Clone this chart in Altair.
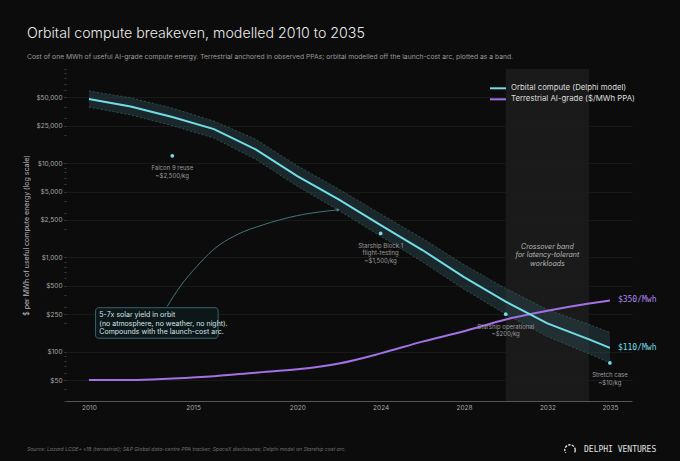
import json
import altair as alt
import pandas as pd

# ---------------- data ----------------
years = [2010, 2012, 2014, 2016, 2018, 2020, 2022, 2024, 2026, 2028, 2030, 2032, 2034, 2035]
orbital_mid = [48000, 40000, 31000, 23000, 14000, 7300, 4100, 2200, 1200, 620, 340, 200, 135, 110]
orbital_low = [39500, 32500, 25000, 18500, 11000, 5700, 3150, 1680, 900, 460, 250, 145, 95, 76]
orbital_high = [58500, 49500, 38500, 28000, 18000, 9400, 5300, 2900, 1600, 840, 470, 280, 195, 160]
terrestrial = [50, 50, 52, 55, 60, 65, 75, 96, 128, 165, 220, 272, 325, 350]

milestone_year = [2014, 2024, 2030, 2035]
milestone_value = [12000, 1800, 250, 76]
milestone_label = [
    "Falcon 9 reuse\n~$2,500/kg",
    "Starship Block 1\nflight-testing\n~$1,500/kg",
    "Starship operational\n~$200/kg",
    "Stretch case\n~$10/kg",
]

crossover_start = [2030]
crossover_end = [2034]
crossover_text = ["Crossover band\nfor latency-tolerant\nworkloads"]

end_labels = ["$350/Mwh", "$110/Mwh"]
end_values = [350, 110]

note_text = ["5-7x solar yield in orbit\n(no atmosphere, no weather, no night).\nCompounds with the launch-cost arc."]
note_x = [2010.32, 2016.2]
note_y = [293, 139]
note_text_x = [2010.5]
note_text_y = [268]

arrow_year = [2013.75, 2014.37, 2015.17, 2015.96, 2017.09, 2018.36, 2019.96, 2021.96]
arrow_value = [301, 490, 800, 1205, 1740, 2220, 2770, 3205]

x_ticks = [2010, 2015, 2020, 2024, 2028, 2032, 2035]
y_labels = [50, 100, 250, 500, 1000, 2500, 5000, 10000, 25000, 50000]
y_ticks = [30, 40, 50, 60, 70, 80, 90, 100, 200, 250, 300, 400, 500, 600, 700, 800, 900,
           1000, 2000, 2500, 3000, 4000, 5000, 6000, 7000, 8000, 9000,
           10000, 20000, 25000, 30000, 40000, 50000, 60000, 70000, 80000, 90000, 100000]

series_names = ["Orbital compute (Delphi model)", "Terrestrial AI-grade ($/MWh PPA)"]

title_text = "Orbital compute breakeven, modelled 2010 to 2035"
subtitle_text = ("Cost of one MWh of useful AI-grade compute energy. Terrestrial anchored in observed PPAs; "
                 "orbital modelled off the launch-cost arc, plotted as a band.")
source_text = ("Source: Lazard LCOE+ v18 (terrestrial); S&P Global data-centre PPA tracker; "
               "SpaceX disclosures; Delphi model on Starship cost arc.")
brand_text = "DELPHI VENTURES"
y_title = "$ per MWh of useful compute energy (log scale)"

# ---------------- style ----------------
BG = "#0c0c0c"
CYAN = "#72dde8"
PURPLE = "#a470e6"
FONT = "Inter"
MONO = "DejaVu Sans Mono"
PLOT_W, PLOT_H = 566, 332

x_scale = alt.Scale(domain=[2008.9, 2036.06], nice=False, zero=False)
y_scale = alt.Scale(type="log", domain=[30, 100000], nice=False)

x_axis = alt.Axis(values=x_ticks, format="d", title=None, grid=False, ticks=False,
                  domainColor="#555555", domainWidth=1, labelColor="#a8a8a8",
                  labelFont=FONT, labelFontSize=6.5, labelPadding=3)

label_test = "indexof(" + json.dumps(y_labels) + ", datum.value) >= 0"
y_axis = alt.Axis(
    values=y_ticks,
    labelExpr=label_test + " ? '$' + format(datum.value, ',') : ''",
    title=y_title,
    grid=True,
    gridColor="#1f1f1f",
    gridWidth=0.7,
    gridOpacity={"condition": {"test": label_test, "value": 1}, "value": 0},
    domain=False,
    tickSize=2,
    tickColor="#4a4a4a",
    tickWidth=0.8,
    labelColor="#a8a8a8",
    labelFont=FONT,
    labelFontSize=6.5,
    labelPadding=2,
    titleColor="#b5b5b5",
    titleFont=FONT,
    titleFontSize=7,
    titleFontWeight="normal",
    titlePadding=6,
)


def X(field):
    return alt.X(field, type="quantitative", scale=x_scale, axis=x_axis, title=None)


def Y(field):
    return alt.Y(field, type="quantitative", scale=y_scale, axis=y_axis, title=y_title)


df = pd.DataFrame({"year": years, "mid": orbital_mid, "low": orbital_low,
                   "high": orbital_high, "terr": terrestrial})

# crossover shaded region
cross_df = pd.DataFrame({"start": crossover_start, "end": crossover_end,
                         "mid": [(crossover_start[0] + crossover_end[0]) / 2],
                         "t": crossover_text})
cross = alt.Chart(cross_df).mark_rect(color="#1b1b1b", opacity=0.95).encode(
    x=X("start"), x2="end:Q", y=alt.value(0), y2=alt.value(PLOT_H))
cross_label = alt.Chart(cross_df).mark_text(
    font=FONT, fontSize=7, fontStyle="italic", color="#b8b8b8", lineBreak="\n",
    lineHeight=8.3, baseline="top", align="center").encode(
    x=X("mid"), y=alt.value(174), text="t:N")

# orbital band
band = alt.Chart(df).mark_area(fill="#2c4c55", opacity=0.45).encode(
    x=X("year"), y=Y("low"), y2="high:Q")
band_lo = alt.Chart(df).mark_line(color="#3e6169", strokeWidth=0.7, strokeDash=[2, 2]).encode(
    x=X("year"), y=Y("low"))
band_hi = alt.Chart(df).mark_line(color="#3e6169", strokeWidth=0.7, strokeDash=[2, 2]).encode(
    x=X("year"), y=Y("high"))

orbital = alt.Chart(df).mark_line(color=CYAN, strokeWidth=2).encode(x=X("year"), y=Y("mid"))
terr = alt.Chart(df).mark_line(color=PURPLE, strokeWidth=2, interpolate="monotone").encode(
    x=X("year"), y=Y("terr"))

# milestones
ms_df = pd.DataFrame({"year": milestone_year, "v": milestone_value, "t": milestone_label})
ms_pts = alt.Chart(ms_df).mark_circle(color=CYAN, size=14, opacity=1).encode(x=X("year"), y=Y("v"))
ms_txt = alt.Chart(ms_df).mark_text(
    font=FONT, fontSize=6, color="#9c9c9c", lineBreak="\n", lineHeight=7.4,
    baseline="top", align="center", dy=9.5).encode(x=X("year"), y=Y("v"), text="t:N")

# end labels
end_df = pd.DataFrame({"year": [years[-1], years[-1]], "v": end_values, "t": end_labels,
                       "s": series_names[::-1]})
end_txt = alt.Chart(end_df).mark_text(font=MONO, fontSize=8, align="left", baseline="middle", dx=8).encode(
    x=X("year"), y=Y("v"), text="t:N",
    color=alt.Color("s:N", scale=alt.Scale(domain=series_names, range=[CYAN, "#b283f0"]), legend=None))

# annotation box + arrow
note_df = pd.DataFrame({"x1": [note_x[0]], "x2": [note_x[1]], "y1": [note_y[0]], "y2": [note_y[1]],
                        "tx": note_text_x, "ty": note_text_y, "t": note_text})
note_box = alt.Chart(note_df).mark_rect(fill="#0d1719", stroke="#3e7b80", strokeWidth=0.8,
                                        cornerRadius=3).encode(
    x=X("x1"), x2="x2:Q", y=Y("y1"), y2="y2:Q")
note_txt = alt.Chart(note_df).mark_text(
    font=FONT, fontSize=7, color="#d3e3e5", lineBreak="\n", lineHeight=8.5,
    align="left", baseline="top").encode(x=X("tx"), y=Y("ty"), text="t:N")

arrow_df = pd.DataFrame({"year": arrow_year, "v": arrow_value})
arrow = alt.Chart(arrow_df).mark_line(color="#4f8f94", strokeWidth=0.8, interpolate="monotone").encode(
    x=X("year"), y=Y("v"))
arrow_head = alt.Chart(arrow_df.tail(1)).mark_point(
    shape="triangle-right", filled=True, size=12, angle=352, color="#4f8f94", opacity=1).encode(
    x=X("year"), y=Y("v"))


# page furniture (pixel-positioned, relative to plot origin)
def text_at(t, x, y, **kw):
    return alt.Chart(pd.DataFrame({"t": [t]})).mark_text(**kw).encode(
        x=alt.value(x), y=alt.value(y), text="t:N")


title = text_at(title_text, -39, -35, font=FONT, fontSize=14.2, fontWeight=300, color="#ececec",
                align="left", baseline="middle")
subtitle = text_at(subtitle_text, -39, -12.5, font=FONT, fontSize=6.75, color="#9a9a9a",
                   align="left", baseline="middle")
source = text_at(source_text, -39, 380, font=FONT, fontSize=5.1, fontStyle="italic", color="#6c6c6c",
                 align="left", baseline="middle")
brand = text_at(brand_text, 518, 381, font=MONO, fontSize=8, color="#e0e0e0", align="left",
                baseline="middle")
brand_logo = alt.Chart(pd.DataFrame({"t": [brand_text]})).mark_point(
    shape="circle", filled=False, size=110, strokeWidth=1.3, color="#e0e0e0", strokeDash=[2.5, 1.2],
    opacity=1).encode(x=alt.value(504), y=alt.value(381))

legend_df = pd.DataFrame({"s": series_names, "y": [19.3, 30.3]})
legend_lines = alt.Chart(legend_df).mark_rule(strokeWidth=2).encode(
    x=alt.value(424), x2=alt.value(440), y=alt.Y("y:Q", scale=None),
    color=alt.Color("s:N", scale=alt.Scale(domain=series_names, range=[CYAN, PURPLE]), legend=None))
legend_text = alt.Chart(legend_df).mark_text(font=FONT, fontSize=7.8, color="#dcdcdc", align="left",
                                             baseline="middle").encode(
    x=alt.value(445), y=alt.Y("y:Q", scale=None), text="s:N")

chart = alt.layer(
    cross, band, band_lo, band_hi, terr, orbital, arrow, arrow_head, note_box, note_txt,
    ms_pts, ms_txt, cross_label, end_txt,
    title, subtitle, source, brand, brand_logo, legend_lines, legend_text,
).resolve_scale(color="independent").properties(
    width=PLOT_W, height=PLOT_H,
    autosize=alt.AutoSizeParams(type="none"),
    padding={"left": 58, "top": 61, "right": 40, "bottom": 52},
    background=BG,
).configure_view(strokeOpacity=0)


# make the page margin dark too
try:
    import altair.utils.mimebundle as _mb
    _orig_spec_to_html = _mb.spec_to_html

    def _dark_spec_to_html(*a, **k):
        html = _orig_spec_to_html(*a, **k)
        return html.replace("<head>", "<head>\n<style>body{background:" + BG + ";}</style>", 1)

    _mb.spec_to_html = _dark_spec_to_html
except Exception:
    pass

chart.save("out.html", embed_options={"renderer": "svg", "actions": False})
